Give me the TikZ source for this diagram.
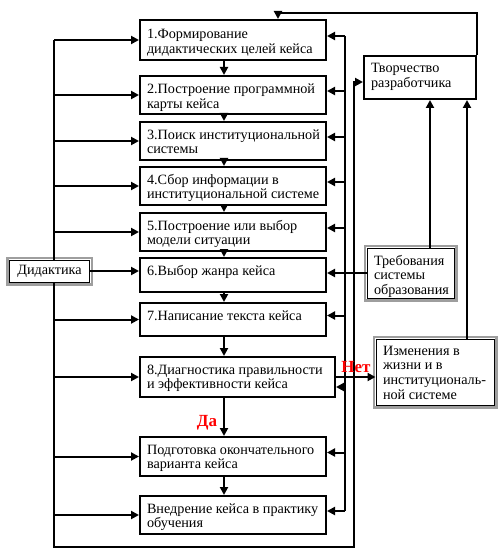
\documentclass[tikz,border=0pt]{standalone}
\usepackage{fontspec}
\setmainfont{Liberation Serif}
\usetikzlibrary{arrows.meta}
\newcommand\fs{\fontsize{14.2}{14.8}\selectfont}
\newcommand\tbox[8][box]{%
  \pgfmathsetmacro\bw{#5-#3}%
  \pgfmathsetmacro\bh{#6-#4}%
  \node[#1] (#2) at ({(#3+#5)/2},{(#4+#6)/2})
    {\parbox[c][\bh pt][t]{\dimexpr\bw pt-14pt\relax}{\rule{0pt}{#7pt}\begin{tabular}[t]{@{}l@{}}#8\end{tabular}}};}
\tikzset{
  box/.style={draw, line width=2pt, inner xsep=7pt, inner ysep=0pt, font=\fs, fill=white},
  gbox/.style={draw, line width=1pt, inner xsep=7pt, inner ysep=0pt, font=\fs, fill=white},
  ln/.style={line width=2pt},
  arr/.style={line width=2pt, -{Triangle[length=8pt,width=8pt]}},
  lab/.style={text=red, font=\bfseries\fontsize{17}{17}\selectfont, inner sep=0pt},
  frame/.style={black!38, line width=2.5pt}
}
\begin{document}
\begin{tikzpicture}[x=1pt,y=-1pt]
\useasboundingbox (0,0) rectangle (500,556);
\fill[white] (0,0) rectangle (500,556);
% main boxes
\tbox{b1}{140}{20}{326}{60}{19}{1.Формирование\\дидактических целей кейса}
\tbox{b2}{140}{76}{326}{114}{18}{2.Построение программной\\карты кейса}
\tbox{b3}{140}{122}{326}{160}{17}{3.Поиск институциональной\\системы}
\tbox{b4}{140}{167}{326}{205}{17}{4.Сбор информации в\\институциональной системе}
\tbox{b5}{140}{213}{326}{251}{17}{5.Построение или выбор\\модели ситуации}
\tbox{b6}{140}{258}{326}{292}{17}{6.Выбор жанра кейса}
\tbox{b7}{140}{303}{326}{336}{17}{7.Написание текста кейса}
\tbox{b8}{140}{357}{335}{397}{17}{8.Диагностика правильности\\и эффективности кейса}
\tbox{b9}{140}{437}{326}{476}{17}{Подготовка окончательного\\варианта кейса}
\tbox{b10}{140}{496}{326}{534}{17}{Внедрение кейса в практику\\обучения}
% side boxes
\tbox{tv}{364}{56}{476}{99}{17}{Творчество\\разработчика}
\tbox[gbox]{tr}{367}{248}{454}{298}{17}{Требования\\системы\\образования}
\tbox[gbox]{iz}{376}{339}{494}{405}{16}{Изменения в\\жизни и в\\институциональ-\\ной системе}
\node[gbox, minimum width=80pt, minimum height=22pt, inner sep=0pt, font=\fs] (dk) at (49.5,271) {Дидактика};
\foreach \n in {dk,tr,iz}
  \draw[frame] ([shift={(-1.75pt,-1.75pt)}]\n.south west) rectangle ([shift={(1.75pt,1.75pt)}]\n.north east);
% helper coordinates
\coordinate (L) at (54,0);
\coordinate (R) at (345,0);
\coordinate (R2) at (354,0);
\coordinate (ax) at (224,0);
\coordinate (bot) at (0,547);
\coordinate (tp) at (278,13);
\coordinate (c1) at (430,0);
\coordinate (c2) at (467,0);
\coordinate (Rt) at (345,36);
\coordinate (Rb) at (345,511);
\coordinate (tvin) at ([yshift=-4.5pt]tv.west);
% vertical flow
\foreach \a/\b in {b1/b2,b2/b3,b3/b4,b4/b5,b5/b6,b6/b7,b7/b8,b8/b9,b9/b10}
  \draw[arr] (\a.south -| ax) -- (\b.north -| ax);
% left bus
\draw[ln] (b1.west -| L) -- (dk.north -| L);
\foreach \n in {b1,b2,b3,b4,b5,b7,b8,b9,b10}
  \draw[arr] (\n.west -| L) -- (\n.west);
\draw[arr] (dk.east) -- (dk.east -| b6.west);
% right bus
\draw[ln] (Rt) -- (Rb);
\foreach \n in {b1,b2,b3,b4,b5,b7,b9,b10}
  \draw[arr, transform canvas={yshift=4pt}] (\n.east -| R) -- (\n.east);
\draw[arr, transform canvas={yshift=-10pt}] (b8.east -| R) -- (b8.east);
% feedback loop
\draw[arr] (dk.south -| L) -- (L |- bot) -- (bot -| R2) -- (R2 |- tvin) -- (tvin);
\draw[arr] (tv.north east) -- (tv.north east |- tp) -- (tp) -- (tp |- b1.north);
% side connections
\draw[arr] (tr.west) -- (tr.west -| b6.east);
\draw[arr] (b8.east) -- (b8.east -| iz.west);
\draw[arr] (tr.north -| c1) -- (tv.south -| c1);
\draw[arr] (iz.north -| c2) -- (tv.south -| c2);
% labels
\node[lab] (net) at (356,367) {Нет};
\node[lab] (da) at (207,423) {Да};
\end{tikzpicture}
\end{document}
